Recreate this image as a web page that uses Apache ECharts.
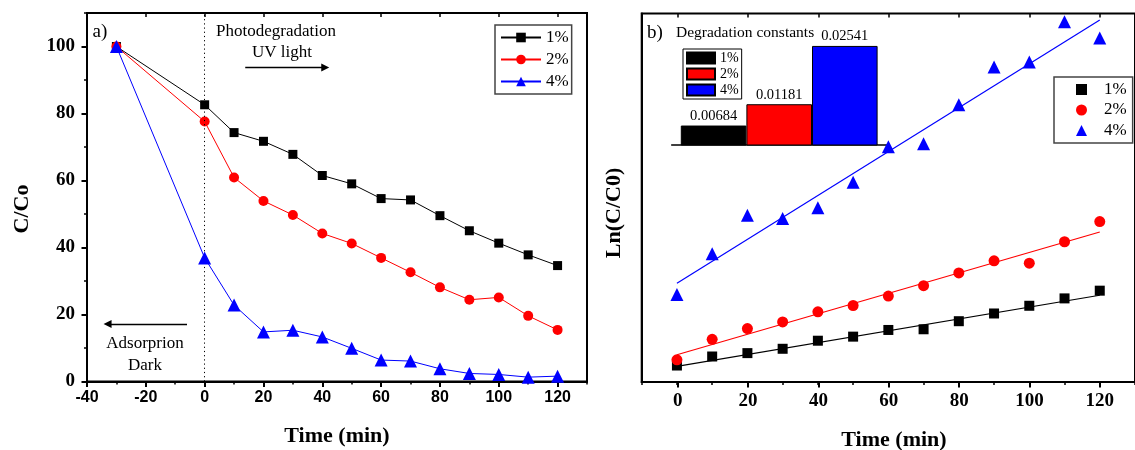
<!DOCTYPE html>
<html><head><meta charset="utf-8">
<script src="https://cdn.jsdelivr.net/npm/echarts@6/dist/echarts.min.js"></script>
<style>html,body{margin:0;padding:0;background:#fff}#c{width:1135px;height:450px}</style>
</head><body><div id="c"></div>
<script>
// ---------- data ----------
const seriesLabels = ['1%', '2%', '4%'];
const seriesColors = ['#000000', '#ff0000', '#0000ff'];
const seriesSymbols = ['rect', 'circle', 'triangle'];

// panel a) C/Co vs time
const timeA = [-30, 0, 10, 20, 30, 40, 50, 60, 70, 80, 90, 100, 110, 120];
const cco1 = [100, 82.6, 74.3, 71.7, 67.8, 61.5, 59.0, 54.6, 54.2, 49.5, 45.0, 41.3, 37.8, 34.6];
const cco2 = [100, 77.6, 60.9, 53.9, 49.7, 44.2, 41.2, 36.9, 32.6, 28.1, 24.4, 25.1, 19.6, 15.4];
const cco4 = [100, 36.9, 22.8, 14.8, 15.3, 13.3, 9.9, 6.4, 6.1, 3.8, 2.4, 2.1, 1.3, 1.6];

// panel b) Ln(C/C0) vs time
const timeB = [0, 10, 20, 30, 40, 50, 60, 70, 80, 90, 100, 110, 120];
const lnc1 = [0.19, 0.294, 0.333, 0.383, 0.476, 0.523, 0.600, 0.608, 0.701, 0.790, 0.879, 0.964, 1.053];
const lnc2 = [0.256, 0.492, 0.616, 0.693, 0.809, 0.882, 0.991, 1.111, 1.258, 1.397, 1.370, 1.617, 1.850];
const lnc4 = [1.010, 1.478, 1.923, 1.884, 2.008, 2.302, 2.712, 2.747, 3.196, 3.633, 3.691, 4.155, 3.966];
const fitTime = [0, 120];
const fitStart = [0.18, 0.314, 1.138];
const fitEnd = [1.00, 1.73, 4.174];

// inset: degradation constants
const rateConstants = [0.00684, 0.01181, 0.02541];

// axis ranges / tick steps
const xRangeA = [-40, 130];
const yRangeA = [0, 110];
const yLabelTopA = 100;
const xRangeB = [-10, 130];
const xLabelStartB = 0;
const yRangeB = [0, 4.25];
const majorStep = 20;
const minorStep = 10;

// annotation arrows (data coords of panel a)
const uvArrow = [[13.8, 93.7], [41.0, 93.7]];
const darkArrow = [[-6.0, 17.2], [-33.0, 17.2]];

// ---------- chart ----------
const SERIF = '"Liberation Serif","Times New Roman",serif';
const SANS = '"Liberation Sans",Arial,sans-serif';
const cccSets = [cco1, cco2, cco4];
const lnSets = [lnc1, lnc2, lnc4];
const zip = (xs, ys) => xs.map((x, i) => [x, ys[i]]);
const black = '#000';

const W = 1135;
const gA = { left: 87, right: 548, top: 13, bottom: 68.5 };
const gB = { left: 641.7, right: -11.6, top: 13.4, bottom: 68 };
// overlay grids, aligned so that major ticks start at a multiple of the step
const plotHA = 450 - gA.top - gA.bottom;
const gA_y = { left: gA.left, right: gA.right, bottom: gA.bottom,
  top: gA.top + plotHA * (yRangeA[1] - yLabelTopA) / (yRangeA[1] - yRangeA[0]) };
const plotWB = W - gB.left - gB.right;
const gB_x = { top: gB.top, bottom: gB.bottom, right: gB.right,
  left: gB.left + plotWB * (xLabelStartB - xRangeB[0]) / (xRangeB[1] - xRangeB[0]) };

const series = [];
cccSets.forEach((arr, i) => {
  const s = {
    type: 'line', name: 'L' + i, xAxisIndex: 0, yAxisIndex: 0,
    data: zip(timeA, arr),
    symbol: seriesSymbols[i], symbolSize: [9, 10, 13][i],
    lineStyle: { color: seriesColors[i], width: 1 },
    itemStyle: { color: seriesColors[i] },
    z: 3 + i
  };
  if (i === 0) {
    s.markLine = {
      silent: true, symbol: 'none', animation: false,
      lineStyle: { type: [1.2, 3], color: black, width: 1 },
      label: { show: false },
      data: [{ xAxis: 0 }]
    };
  }
  if (i === 2) {
    s.markLine = {
      silent: true, symbol: ['none', 'triangle'], symbolSize: 8, animation: false,
      lineStyle: { type: 'solid', color: black, width: 1.3 },
      label: { show: false },
      data: [
        [{ coord: uvArrow[0] }, { coord: uvArrow[1] }],
        [{ coord: darkArrow[0] }, { coord: darkArrow[1] }]
      ]
    };
  }
  series.push(s);
});
lnSets.forEach((arr, i) => {
  series.push({
    type: 'line', name: 'F' + i, xAxisIndex: 3, yAxisIndex: 2,
    data: [[fitTime[0], fitStart[i]], [fitTime[1], fitEnd[i]]],
    symbol: 'none', lineStyle: { color: seriesColors[i], width: 1.2 }, z: 2
  });
});
lnSets.forEach((arr, i) => {
  series.push({
    type: 'scatter', name: 'S' + i, xAxisIndex: 3, yAxisIndex: 2,
    data: zip(timeB, arr),
    symbol: seriesSymbols[i], symbolSize: [10, 11, 13][i],
    itemStyle: { color: seriesColors[i], opacity: 1 }, z: 4
  });
});
rateConstants.forEach((v, i) => {
  series.push({
    type: 'bar', name: 'B' + i, xAxisIndex: 6, yAxisIndex: 4,
    data: [v], barWidth: 65.6, barGap: '0%',
    itemStyle: { color: seriesColors[i], borderColor: black, borderWidth: 1 },
    label: { show: true, position: 'top', distance: 2, color: black, fontFamily: SERIF, fontSize: 14.5,
      formatter: (p) => String(p.value) },
    z: 5
  });
});

const minorTk = { show: true, length: 3, lineStyle: { color: black, width: 1.5 } };
const majorTk = { show: true, length: 5.5, lineStyle: { color: black, width: 2 } };
const topTk = { show: true, inside: true, length: 4, lineStyle: { color: black, width: 1.5 } };
const axLine = { show: true, onZero: false, lineStyle: { color: black, width: 2 } };
const noLine = { show: false, onZero: false };
const noSplit = { show: false };
const hidden = (gi, extra) => Object.assign({ gridIndex: gi, type: 'value', show: false, min: 0, max: 1 }, extra || {});

const option = {
  animation: false,
  backgroundColor: '#fff',
  grid: [
    Object.assign({ show: true, borderColor: black, borderWidth: 2 }, gA),   // 0
    Object.assign({ show: true, borderColor: black, borderWidth: 2 }, gB),   // 1
    { left: 671.7, right: 248.3, top: 43.4, bottom: 305 },                   // 2 inset
    Object.assign({}, gA),                                                    // 3 overlay x majors (a)
    Object.assign({}, gB_x),                                                  // 4 overlay x majors (b)
    Object.assign({}, gA_y)                                                   // 5 overlay y majors (a)
  ],
  xAxis: [
    { gridIndex: 0, type: 'value', min: xRangeA[0], max: xRangeA[1], interval: minorStep, position: 'bottom',
      axisLine: axLine, axisTick: minorTk, axisLabel: { show: false }, splitLine: noSplit },
    { gridIndex: 0, type: 'value', min: xRangeA[0], max: xRangeA[1], interval: majorStep, position: 'top',
      axisLine: noLine, axisTick: topTk, axisLabel: { show: false }, splitLine: noSplit },
    { gridIndex: 3, type: 'value', min: xRangeA[0], max: xRangeA[1], interval: majorStep, position: 'bottom',
      axisLine: noLine, axisTick: majorTk, splitLine: noSplit,
      axisLabel: { showMaxLabel: false, fontFamily: SANS, fontWeight: 'bold', fontSize: 16, color: black, margin: 8 } },
    { gridIndex: 1, type: 'value', min: xRangeB[0], max: xRangeB[1], interval: minorStep, position: 'bottom',
      axisLine: axLine, axisTick: minorTk, axisLabel: { show: false }, splitLine: noSplit },
    { gridIndex: 4, type: 'value', min: xLabelStartB, max: xRangeB[1], interval: majorStep, position: 'bottom',
      axisLine: noLine, axisTick: majorTk, splitLine: noSplit,
      axisLabel: { showMaxLabel: false, fontFamily: SERIF, fontWeight: 'bold', fontSize: 19, color: black, margin: 10 } },
    { gridIndex: 4, type: 'value', min: xLabelStartB, max: xRangeB[1], interval: majorStep, position: 'top',
      axisLine: noLine, axisTick: topTk, axisLabel: { show: false }, splitLine: noSplit },
    { gridIndex: 2, type: 'category', data: ['k'],
      axisLine: { show: true, onZero: false, lineStyle: { color: black, width: 1.5 } },
      axisTick: { show: false }, axisLabel: { show: false }, splitLine: noSplit },
    hidden(5)
  ],
  yAxis: [
    { gridIndex: 0, type: 'value', min: yRangeA[0], max: yRangeA[1], interval: minorStep,
      axisLine: axLine, axisTick: minorTk, axisLabel: { show: false }, splitLine: noSplit },
    hidden(3),
    { gridIndex: 1, type: 'value', min: yRangeB[0], max: yRangeB[1],
      axisLine: axLine, axisTick: { show: false }, axisLabel: { show: false }, splitLine: noSplit },
    hidden(4),
    { gridIndex: 2, type: 'value', min: 0.0023, max: 0.026, show: false },
    { gridIndex: 5, type: 'value', min: yRangeA[0], max: yLabelTopA, interval: majorStep,
      axisLine: noLine, axisTick: majorTk, splitLine: noSplit,
      axisLabel: { fontFamily: SERIF, fontWeight: 'bold', fontSize: 19, color: black, margin: 12 } }
  ],
  legend: [
    { data: ['L0', 'L1', 'L2'], orient: 'vertical', left: 495, top: 25, selectedMode: false,
      formatter: (n) => seriesLabels[+n.slice(1)],
      itemWidth: 40, itemHeight: 12, itemGap: 5, padding: [4, 3, 4, 5],
      borderColor: '#444', borderWidth: 1.5, backgroundColor: '#fff',
      textStyle: { fontFamily: SERIF, fontSize: 17, color: black, lineHeight: 17 } },
    { data: ['S0', 'S1', 'S2'], orient: 'vertical', left: 1054, top: 77, selectedMode: false,
      formatter: (n) => seriesLabels[+n.slice(1)],
      itemWidth: 11, itemHeight: 11, itemGap: 3.5, padding: [4, 6, 4, 22],
      borderColor: '#444', borderWidth: 1.5, backgroundColor: '#fff',
      textStyle: { fontFamily: SERIF, fontSize: 17, color: black, lineHeight: 17, padding: [0, 0, 0, 12] } },
    { data: ['B0', 'B1', 'B2'], orient: 'vertical', left: 683, top: 49, selectedMode: false,
      formatter: (n) => seriesLabels[+n.slice(1)], icon: 'rect',
      itemWidth: 28, itemHeight: 11, itemGap: 2, padding: [2, 3, 2, 3],
      borderColor: black, borderWidth: 1, backgroundColor: '#fff',
      textStyle: { fontFamily: SERIF, fontSize: 14, color: black, lineHeight: 14 } }
  ],
  graphic: [
    { type: 'text', x: 100, y: 32, style: { text: 'a)', font: '19px ' + SERIF, fill: black, align: 'center', verticalAlign: 'middle' } },
    { type: 'text', x: 276, y: 32, style: { text: 'Photodegradation', font: '17px ' + SERIF, fill: black, align: 'center', verticalAlign: 'middle' } },
    { type: 'text', x: 282, y: 53, style: { text: 'UV light', font: '17px ' + SERIF, fill: black, align: 'center', verticalAlign: 'middle' } },
    { type: 'text', x: 145, y: 344, style: { text: 'Adsorprion', font: '17px ' + SERIF, fill: black, align: 'center', verticalAlign: 'middle' } },
    { type: 'text', x: 145, y: 366, style: { text: 'Dark', font: '17px ' + SERIF, fill: black, align: 'center', verticalAlign: 'middle' } },
    { type: 'text', x: 655, y: 33, style: { text: 'b)', font: '19px ' + SERIF, fill: black, align: 'center', verticalAlign: 'middle' } },
    { type: 'text', x: 676, y: 33, style: { text: 'Degradation constants', font: '15.5px ' + SERIF, fill: black, align: 'left', verticalAlign: 'middle' } },
    { type: 'text', x: 22, y: 209, rotation: Math.PI / 2, style: { text: 'C/Co', font: 'bold 22px ' + SERIF, fill: black, align: 'center', verticalAlign: 'middle' } },
    { type: 'text', x: 614, y: 213, rotation: Math.PI / 2, style: { text: 'Ln(C/C0)', font: 'bold 22px ' + SERIF, fill: black, align: 'center', verticalAlign: 'middle' } },
    { type: 'text', x: 337, y: 436, style: { text: 'Time (min)', font: 'bold 22px ' + SERIF, fill: black, align: 'center', verticalAlign: 'middle' } },
    { type: 'text', x: 894, y: 440, style: { text: 'Time (min)', font: 'bold 22px ' + SERIF, fill: black, align: 'center', verticalAlign: 'middle' } }
  ],
  series: series
};

const chart = echarts.init(document.getElementById('c'), null, { renderer: 'canvas' });
chart.setOption(option);
</script>
</body></html>
